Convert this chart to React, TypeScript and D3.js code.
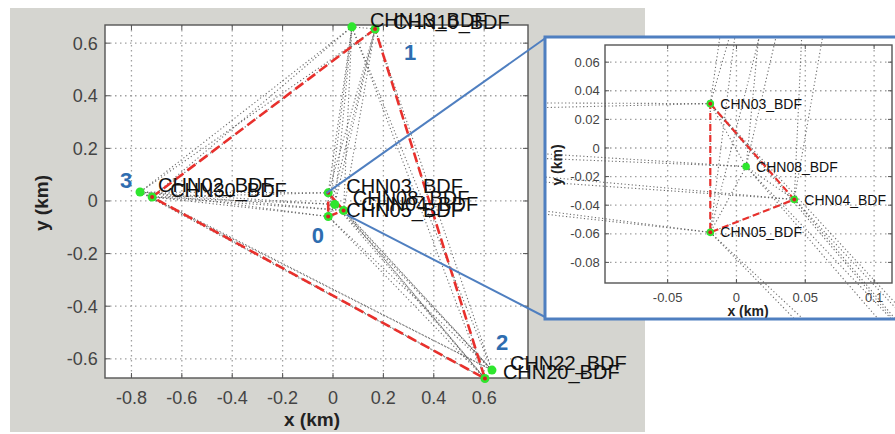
import React from "react";
import { scaleLinear, line } from "d3";

// station positions in km
const stationNames = ["CHN03_BDF", "CHN08_BDF", "CHN04_BDF", "CHN05_BDF", "CHN13_BDF", "CHN10_BDF", "CHN02_BDF", "CHN30_BDF", "CHN22_BDF", "CHN20_BDF"];
const stationX = [-0.019, 0.007, 0.042, -0.019, 0.075, 0.167, -0.766, -0.718, 0.631, 0.603];
const stationY = [0.031, -0.013, -0.036, -0.059, 0.662, 0.654, 0.034, 0.015, -0.643, -0.675];

// red dashed triangles
const bigTriangle = ["CHN10_BDF", "CHN30_BDF", "CHN20_BDF"];
const smallTriangle = ["CHN03_BDF", "CHN04_BDF", "CHN05_BDF"];

// blue cluster numbers and where they sit (km)
const clusterText = ["1", "3", "0", "2"];
const clusterX = [0.306, -0.821, -0.06, 0.671];
const clusterY = [0.567, 0.08, -0.129, -0.536];

const mainXTicks = [-0.8, -0.6, -0.4, -0.2, 0, 0.2, 0.4, 0.6];
const mainYTicks = [-0.6, -0.4, -0.2, 0, 0.2, 0.4, 0.6];
const insetXTicks = [-0.05, 0, 0.05, 0.1];
const insetYTicks = [-0.08, -0.06, -0.04, -0.02, 0, 0.02, 0.04, 0.06];

const FONT = "'Liberation Sans', Arial, sans-serif";

const stations = stationNames.map((n, i) => ({ name: n, x: stationX[i], y: stationY[i] }));
const byName = (n: string) => stations.find(s => s.name === n)!;
const links: any[] = [];
stations.forEach((a, i) => stations.forEach((b, j) => { if (j > i) links.push([a, b]); }));

const fmt = (v: number) => (Math.abs(v) < 1e-9 ? "0" : String(+v.toFixed(2)));

const Axes = ({ xs, ys, xTicks, yTicks, fontSize, tickLen, clipId, labelSize, small }: any) => {
  const [x0, x1] = xs.range();
  const [y0, y1] = ys.range();
  const tri = (names: string[]) =>
    line<any>().x(d => xs(d.x)).y(d => ys(d.y))(names.map(byName).concat([byName(names[0])]))!;
  return (
    <g>
      <rect x={x0} y={y1} width={x1 - x0} height={y0 - y1} fill="white" />
      {xTicks.map((t: number) => (
        <line key={"gx" + t} x1={xs(t)} x2={xs(t)} y1={y1} y2={y0} stroke="#a0a0a0" strokeWidth={1.3} strokeDasharray="1.5,3.5" />
      ))}
      {yTicks.map((t: number) => (
        <line key={"gy" + t} x1={x0} x2={x1} y1={ys(t)} y2={ys(t)} stroke="#a0a0a0" strokeWidth={1.3} strokeDasharray="1.5,3.5" />
      ))}
      <g clipPath={`url(#${clipId})`}>
        {links.map((l, i) => (
          <line key={"l" + i} x1={xs(l[0].x)} y1={ys(l[0].y)} x2={xs(l[1].x)} y2={ys(l[1].y)}
            stroke="#555" strokeWidth={1.1} strokeDasharray="1.2,2.4" opacity={0.85} />
        ))}
      </g>
      <rect x={x0} y={y1} width={x1 - x0} height={y0 - y1} fill="none" stroke="#555" strokeWidth={1.4} />
      {xTicks.map((t: number) => (
        <g key={"tx" + t}>
          <line x1={xs(t)} x2={xs(t)} y1={y0} y2={y0 - tickLen} stroke="#555" />
          <line x1={xs(t)} x2={xs(t)} y1={y1} y2={y1 + tickLen} stroke="#555" />
          <text x={xs(t)} y={y0 + fontSize * 1.45} textAnchor="middle" fontSize={fontSize} fill="#444" fontFamily={FONT}>{fmt(t)}</text>
        </g>
      ))}
      {yTicks.map((t: number) => (
        <g key={"ty" + t}>
          <line x1={x0} x2={x0 + tickLen} y1={ys(t)} y2={ys(t)} stroke="#555" />
          <line x1={x1} x2={x1 - tickLen} y1={ys(t)} y2={ys(t)} stroke="#555" />
          <text x={x0 - fontSize * 0.4} y={ys(t)} dy="0.36em" textAnchor="end" fontSize={fontSize} fill="#444" fontFamily={FONT}>{fmt(t)}</text>
        </g>
      ))}
      <path d={tri(bigTriangle)} fill="none" stroke="#e8302c" strokeWidth={small ? 2.2 : 2.6} strokeDasharray={small ? "7,4" : "10,5"} />
      <path d={tri(smallTriangle)} fill="none" stroke="#e8302c" strokeWidth={small ? 2.2 : 2.6} strokeDasharray={small ? "7,4" : "10,5"} />
      {stations.map(s => (
        <circle key={"p" + s.name} cx={xs(s.x)} cy={ys(s.y)} r={small ? 3.8 : 4.5} fill="#2ee62e" />
      ))}
      {bigTriangle.concat(smallTriangle).map(n => (
        <circle key={"r" + n} cx={xs(byName(n).x)} cy={ys(byName(n).y)} r={2} fill="#d42020" />
      ))}
      {stations.map(s => (
        <text key={"n" + s.name} x={xs(s.x) + (small ? 10 : 18)} y={ys(s.y) + (small ? 0 : -7)} dy="0.36em"
          fontSize={labelSize} fill="#111" fontFamily={FONT}>{s.name}</text>
      ))}
    </g>
  );
};

export default function App() {
  const mx = scaleLinear().domain([-0.905, 0.774]).range([105, 528]);
  const my = scaleLinear().domain([-0.673, 0.669]).range([378, 25]);
  const ix = scaleLinear().domain([-0.0955, 0.113]).range([605, 892]);
  const iy = scaleLinear().domain([-0.0944, 0.072]).range([283, 45]);

  return (
    <svg width={895} height={434} style={{ position: "absolute", left: 0, top: 0, background: "white" }}>
      <defs>
        <clipPath id="mainClip"><rect x={105} y={25} width={423} height={353} /></clipPath>
        <clipPath id="insetClip"><rect x={546} y={38} width={360} height={280} /></clipPath>
      </defs>
      <rect x={10} y={8} width={635} height={424} fill="#d5d5d0" />
      <Axes xs={mx} ys={my} xTicks={mainXTicks} yTicks={mainYTicks} fontSize={18} tickLen={5}
        clipId="mainClip" small={false} labelSize={20} />
      <text x={312} y={426} textAnchor="middle" fontSize={19} fontWeight="bold" fill="#222" fontFamily={FONT}>x (km)</text>
      <text transform="translate(48,203) rotate(-90)" textAnchor="middle" fontSize={19} fontWeight="bold" fill="#222" fontFamily={FONT}>y (km)</text>
      {clusterText.map((t, i) => (
        <text key={"c" + t} x={mx(clusterX[i])} y={my(clusterY[i])} dy="0.36em" textAnchor="middle"
          fontSize={22} fontWeight="bold" fill="#2e6db0" fontFamily={FONT}>{t}</text>
      ))}

      {/* zoom connectors */}
      <line x1={547} y1={37} x2={mx(-0.026)} y2={my(0.03)} stroke="#4f7fc0" strokeWidth={2} />
      <line x1={547} y1={318} x2={mx(0.055)} y2={my(-0.053)} stroke="#4f7fc0" strokeWidth={2} />

      {/* inset */}
      <rect x={545} y={37} width={360} height={282} fill="white" />
      <g clipPath="url(#insetClip)">
        <Axes xs={ix} ys={iy} xTicks={insetXTicks} yTicks={insetYTicks} fontSize={13} tickLen={4}
          clipId="insetClip" small={true} labelSize={14} />
        <text x={748} y={316} textAnchor="middle" fontSize={14} fontWeight="bold" fill="#222" fontFamily={FONT}>x (km)</text>
        <text transform="translate(562,165) rotate(-90)" textAnchor="middle" fontSize={14} fontWeight="bold" fill="#222" fontFamily={FONT}>y (km)</text>
      </g>
      <rect x={545} y={37} width={360} height={282} fill="none" stroke="#4f7fc0" strokeWidth={3} />
    </svg>
  );
}
